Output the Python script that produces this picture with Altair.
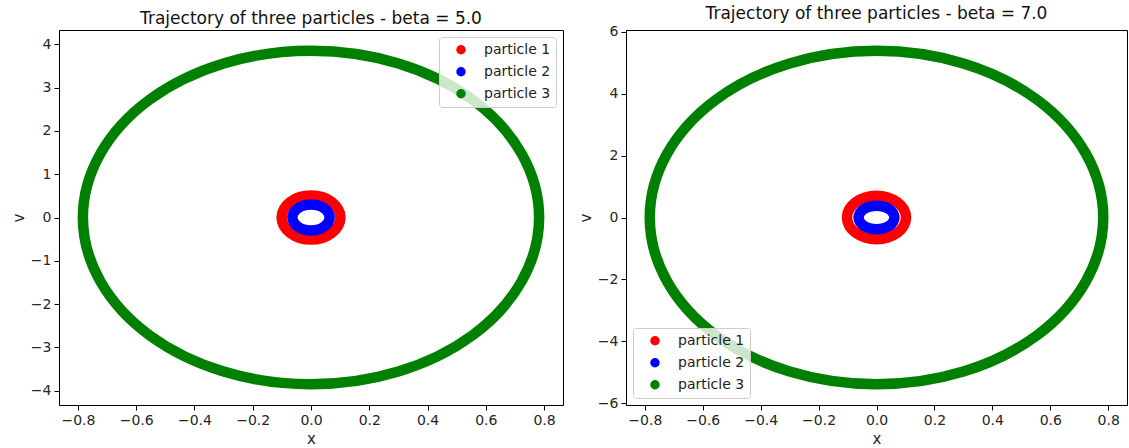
import altair as alt
import pandas as pd

# Particle trajectories in phase space (x, v), one ring per particle.
particles = ["particle 1", "particle 2", "particle 3"]
colors = ["#ff0000", "#0000ff", "#008000"]

# beta = 5.0
b5_p1_x = [0.101, 0.093, 0.071, 0.039, 0.0, -0.039, -0.071, -0.093, -0.101, -0.093, -0.071, -0.039, 0.0, 0.039, 0.071, 0.093]
b5_p1_v = [0.0, 0.195, 0.361, 0.471, 0.51, 0.471, 0.361, 0.195, 0.0, -0.195, -0.361, -0.471, -0.51, -0.471, -0.361, -0.195]
b5_p2_x = [0.064, 0.059, 0.045, 0.025, 0.0, -0.025, -0.045, -0.059, -0.064, -0.059, -0.045, -0.025, 0.0, 0.025, 0.045, 0.059]
b5_p2_v = [0.0, 0.115, 0.212, 0.277, 0.30, 0.277, 0.212, 0.115, 0.0, -0.115, -0.212, -0.277, -0.30, -0.277, -0.212, -0.115]
b5_p3_x = [0.783, 0.723, 0.554, 0.300, 0.0, -0.300, -0.554, -0.723, -0.783, -0.723, -0.554, -0.300, 0.0, 0.300, 0.554, 0.723]
b5_p3_v = [0.0, 1.473, 2.722, 3.557, 3.85, 3.557, 2.722, 1.473, 0.0, -1.473, -2.722, -3.557, -3.85, -3.557, -2.722, -1.473]

# beta = 7.0
b7_p1_x = [0.102, 0.094, 0.072, 0.039, 0.0, -0.039, -0.072, -0.094, -0.102, -0.094, -0.072, -0.039, 0.0, 0.039, 0.072, 0.094]
b7_p1_v = [0.0, 0.268, 0.495, 0.647, 0.70, 0.647, 0.495, 0.268, 0.0, -0.268, -0.495, -0.647, -0.70, -0.647, -0.495, -0.268]
b7_p2_x = [0.062, 0.057, 0.044, 0.024, 0.0, -0.024, -0.044, -0.057, -0.062, -0.057, -0.044, -0.024, 0.0, 0.024, 0.044, 0.057]
b7_p2_v = [0.0, 0.146, 0.269, 0.351, 0.38, 0.351, 0.269, 0.146, 0.0, -0.146, -0.269, -0.351, -0.38, -0.351, -0.269, -0.146]
b7_p3_x = [0.783, 0.723, 0.554, 0.300, 0.0, -0.300, -0.554, -0.723, -0.783, -0.723, -0.554, -0.300, 0.0, 0.300, 0.554, 0.723]
b7_p3_v = [0.0, 2.061, 3.804, 4.971, 5.38, 4.971, 3.804, 2.061, 0.0, -2.061, -3.804, -4.971, -5.38, -4.971, -3.804, -2.061]

FONT = "DejaVu Sans"


def frame(series):
    rows = []
    for name, xs, vs in series:
        for i, (x, v) in enumerate(zip(xs, vs)):
            rows.append({"particle": name, "idx": i, "x": x, "v": v})
    return pd.DataFrame(rows)


def panel(df, title, ydom, yticks, legend_orient, width):
    base = alt.Chart(df).encode(
        x=alt.X("x:Q", title="x",
                scale=alt.Scale(domain=[-0.865, 0.865], nice=False, zero=False),
                axis=alt.Axis(values=[-0.8, -0.6, -0.4, -0.2, 0.0, 0.2, 0.4, 0.6, 0.8], format=".1f")),
        y=alt.Y("v:Q", title="v",
                scale=alt.Scale(domain=ydom, nice=False, zero=False),
                axis=alt.Axis(values=yticks, format="d")),
    )
    # Thick closed paths; legend keys are small circles with a wide stroke,
    # which reads as solid dots.
    rings = base.mark_line(strokeWidth=10.5, interpolate="cardinal-closed").encode(
        color=alt.Color(
            "particle:N", scale=alt.Scale(domain=particles, range=colors),
            legend=alt.Legend(
                title=None, orient=legend_orient, offset=7,
                fillColor="rgba(255,255,255,0.8)", strokeColor="#cccccc",
                cornerRadius=3, padding=5, symbolOffset=10,
                symbolType="circle", symbolSize=20, symbolStrokeWidth=5,
                labelFont=FONT, labelFontSize=14, labelColor="#222222",
                labelOffset=16, rowPadding=6, clipHeight=15.5,
            )),
        order="idx:Q",
    )
    return rings.properties(
        width=width, height=375,
        title=alt.TitleParams(title, font=FONT, fontSize=17, fontWeight="normal",
                              color="#111111", offset=0, dy=-2),
    )


left = panel(
    frame([("particle 1", b5_p1_x, b5_p1_v), ("particle 2", b5_p2_x, b5_p2_v),
           ("particle 3", b5_p3_x, b5_p3_v)]),
    "Trajectory of three particles - beta = 5.0",
    [-4.33, 4.33], [-4, -3, -2, -1, 0, 1, 2, 3, 4], "top-right", 504,
)
right = panel(
    frame([("particle 1", b7_p1_x, b7_p1_v), ("particle 2", b7_p2_x, b7_p2_v),
           ("particle 3", b7_p3_x, b7_p3_v)]),
    "Trajectory of three particles - beta = 7.0",
    [-6.05, 6.05], [-6, -4, -2, 0, 2, 4, 6], "bottom-left", 501,
)

chart = alt.hconcat(left, right, spacing=13).resolve_scale(
    color="independent"
).properties(
    padding={"left": 10, "top": 4, "right": 0, "bottom": 0}
).configure_view(
    stroke="black", strokeWidth=1
).configure_axis(
    grid=False, domainColor="black", tickColor="black", tickSize=5,
    labelFont=FONT, labelFontSize=14, labelColor="#262626", labelPadding=3,
    titleFont=FONT, titleFontSize=15, titleFontWeight="normal", titleColor="#262626",
    titlePadding=4,
)

chart.save("out.html", embed_options={"renderer": "svg", "actions": False})
